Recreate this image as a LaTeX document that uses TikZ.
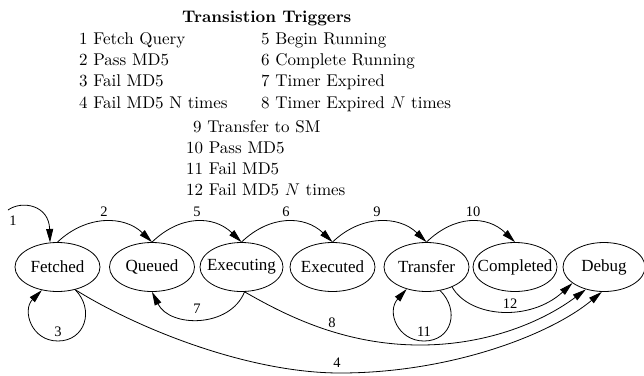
\documentclass[tikz,border=0pt]{standalone}
\usepackage{fix-cm}
\usepackage{fontspec}
\setmainfont{lmroman10-regular.otf}[BoldFont=lmroman10-bold.otf,
  ItalicFont=lmroman10-italic.otf, BoldItalicFont=lmroman10-bolditalic.otf]
\newfontfamily\tms{Liberation Serif}
\newcommand\statename[1]{\makebox[0pt]{#1}}
\usetikzlibrary{shapes.geometric,arrows.meta}
\begin{document}
\begin{tikzpicture}[x=1pt,y=-1pt,
  state/.style={draw, ellipse, line width=0.8pt, minimum height=49pt,
    inner sep=0pt, font=\tms\fontsize{17}{17}\selectfont},
  edge/.style={line width=0.8pt, -{Triangle[length=13.5pt,width=7pt]}},
  elabel/.style={inner sep=0pt, font=\tms\fontsize{14.5}{14.5}\selectfont},
  listline/.style={anchor=base west, inner sep=0pt,
    font=\fontsize{17}{20}\selectfont}]
\useasboundingbox (0,0) rectangle (644,375);

% legend of transition triggers
\node[listline, font=\fontsize{16.8}{20}\selectfont\bfseries] (title) at (182,22.7) {Transistion Triggers};
\node[listline] (t1) at (79,44) {1 Fetch Query};
\node[listline] (t2) at (79,65.3) {2 Pass MD5};
\node[listline] (t3) at (79,86.6) {3 Fail MD5};
\node[listline] (t4) at (79,108) {4 Fail MD5 N times};
\node[listline] (t5) at (261,44) {5 Begin Running};
\node[listline] (t6) at (261,65.3) {6 Complete Running};
\node[listline] (t7) at (261,86.6) {7 Timer Expired};
\node[listline] (t8) at (261,108) {8 Timer Expired $N$ times};
\node[listline] (t9) at (193,132.5) {9 Transfer to SM};
\node[listline] (t10) at (186,153.5) {10 Pass MD5};
\node[listline] (t11) at (186,174.5) {11 Fail MD5};
\node[listline] (t12) at (186,195.5) {12 Fail MD5 $N$ times};

% states
\node[state, minimum width=85pt] (fetched)   at (57.5,267) {\statename{Fetched}};
\node[state, minimum width=85pt] (queued)    at (152,267)  {\statename{Queued}};
\node[state, minimum width=83pt] (executing) at (241.5,267) {\statename{Executing}};
\node[state, minimum width=85pt] (executed)  at (332.5,267) {\statename{Executed}};
\node[state, minimum width=85pt] (transfer)  at (426.5,267) {\statename{Transfer}};
\node[state, minimum width=84pt] (completed) at (515,267)  {\statename{Completed}};
\node[state, minimum width=82pt] (debug)     at (604,267)  {\statename{Debug}};

% transitions
\coordinate (entry) at (8,210);
\draw[edge] (entry) .. controls (22,200) and (49,205) .. (fetched.107);
\draw[edge] (fetched.north) .. controls (86,215) and (124,215) .. (queued.north);
\draw[edge] (queued.north) .. controls (180,215) and (213.5,215) .. (executing.north);
\draw[edge] (executing.north) .. controls (269.5,215) and (304.5,215) .. (executed.north);
\draw[edge] (executed.north) .. controls (360.5,215) and (398.5,215) .. (transfer.north);
\draw[edge] (transfer.north) .. controls (454.5,215) and (487,215) .. (completed.north);
\draw[edge] (fetched.308) .. controls (95,310) and (85,341) .. (58,341)
  .. controls (31,341) and (22,310) .. (fetched.236);
\draw[edge] (transfer.300) .. controls (460,310) and (452,341) .. (424,341)
  .. controls (398,341) and (386,312) .. (transfer.228);
\draw[edge] (executing.277) .. controls (230,328) and (170,328) .. (queued.south);
\draw[edge] (executing.277) .. controls (280,312) and (340,345) .. (420,345)
  .. controls (490,345) and (545,320) .. (debug.231);
\draw[edge] (fetched.308) .. controls (140,330) and (250,373) .. (340,373)
  .. controls (450,373) and (550,335) .. (debug.265);
\draw[edge] (transfer.322) .. controls (470,318) and (530,322) .. (debug.207);

% transition labels
\node[elabel] (l1)  at (13,221)  {1};
\node[elabel] (l2)  at (104,212) {2};
\node[elabel] (l5)  at (197,212) {5};
\node[elabel] (l6)  at (286,212) {6};
\node[elabel] (l9)  at (377,212) {9};
\node[elabel] (l10) at (473,212) {10};
\node[elabel] (l3)  at (58,332)  {3};
\node[elabel] (l7)  at (197,309) {7};
\node[elabel] (l8)  at (332,323) {8};
\node[elabel] (l11) at (424,332) {11};
\node[elabel] (l12) at (510,304) {12};
\node[elabel] (l4)  at (337,363) {4};
\end{tikzpicture}
\end{document}
